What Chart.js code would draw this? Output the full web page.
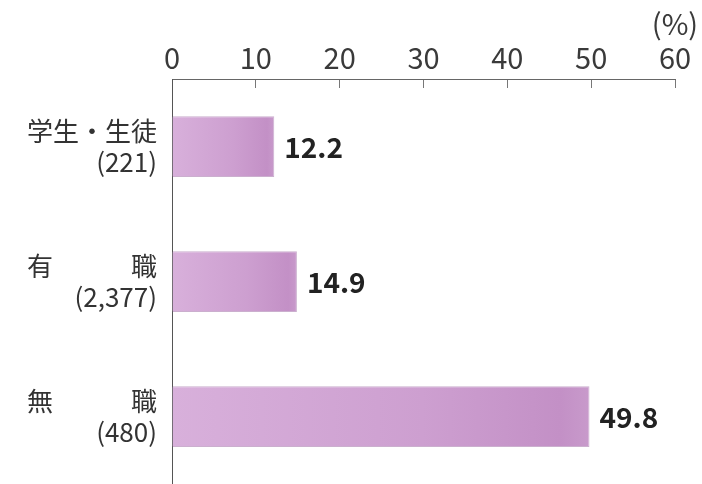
<!DOCTYPE html>
<html>
<head>
<meta charset="utf-8">
<script src="https://cdn.jsdelivr.net/npm/chart.js@4/dist/chart.umd.min.js"></script>
<style>
    html, body { margin: 0; padding: 0; background: #fff; }
    #wrap { width: 702px; height: 484px; }
</style>
</head>
<body>
<div id="wrap"><canvas id="chart"></canvas></div>
<script>
    'use strict';

    // data
    var categories = ['学生・生徒', '有　　　職', '無　　　職'];
    var counts = ['(221)', '(2,377)', '(480)'];
    var values = [12.2, 14.9, 49.8];
    var axisMax = 60;
    var axisStep = 10;
    var unitLabel = '(%)';

    var fontFamily = '"Noto Sans CJK JP", "Noto Sans", sans-serif';

    // each bar gets its own left-to-right gradient
    var barFill = function (ctx) {
        var chart = ctx.chart;
        var xScale = chart.scales.x;
        if (!chart.chartArea || !xScale || ctx.type !== 'data') {
            return '#cc9ecf';
        }
        var x0 = xScale.getPixelForValue(0);
        var x1 = xScale.getPixelForValue(ctx.raw);
        var g = chart.ctx.createLinearGradient(x0, 0, x1, 0);
        g.addColorStop(0, '#d8b0db');
        g.addColorStop(0.6, '#cd9fd0');
        g.addColorStop(0.93, '#c390c6');
        g.addColorStop(1, '#c89acb');
        return g;
    };

    var valueLabels = {
        id: 'valueLabels',
        afterDatasetsDraw: function (chart) {
            var ctx = chart.ctx;
            var meta = chart.getDatasetMeta(0);
            ctx.save();
            ctx.font = 'bold 28px ' + fontFamily;
            ctx.fillStyle = '#222';
            ctx.textAlign = 'left';
            ctx.textBaseline = 'middle';
            meta.data.forEach(function (bar, i) {
                ctx.fillText(values[i].toFixed(1), bar.x + 10, bar.y + 1);
            });
            ctx.restore();
        }
    };

    var chart = new Chart(document.getElementById('chart'), {
        type: 'bar',
        data: {
            labels: categories.map(function (name, i) {
                return [name, counts[i]];
            }),
            datasets: [{
                data: values,
                backgroundColor: barFill,
                borderColor: 'rgba(160, 110, 165, 0.55)',
                borderWidth: 1,
                barPercentage: 0.45,
                categoryPercentage: 1
            }]
        },
        options: {
            indexAxis: 'y',
            responsive: true,
            maintainAspectRatio: false,
            animation: false,
            layout: {
                padding: { top: 0, left: 12, right: 27, bottom: 0 }
            },
            plugins: {
                legend: { display: false },
                tooltip: { enabled: false }
            },
            scales: {
                x: {
                    position: 'top',
                    min: 0,
                    max: axisMax,
                    afterFit: function (scale) {
                        scale.height = 79;
                        scale.paddingLeft = 0;
                        scale.paddingRight = 0;
                    },
                    grid: {
                        drawOnChartArea: false,
                        drawTicks: true,
                        tickLength: -9,
                        color: '#777'
                    },
                    border: { display: true, color: '#666', width: 1 },
                    ticks: {
                        stepSize: axisStep,
                        padding: 13,
                        color: '#3a3a3a',
                        font: { family: fontFamily, size: 29, lineHeight: 1.17 },
                        callback: function (value) {
                            return value === axisMax ? [unitLabel, String(value)] : String(value);
                        }
                    }
                },
                y: {
                    afterFit: function (scale) {
                        scale.paddingTop = 0;
                        scale.paddingBottom = 0;
                    },
                    grid: { display: false, drawTicks: false },
                    border: { display: true, color: '#555', width: 1 },
                    ticks: {
                        padding: 15,
                        color: '#333',
                        font: { family: fontFamily, size: 26, lineHeight: 1.18 }
                    }
                }
            }
        },
        plugins: [valueLabels]
    });
</script>
</body>
</html>
